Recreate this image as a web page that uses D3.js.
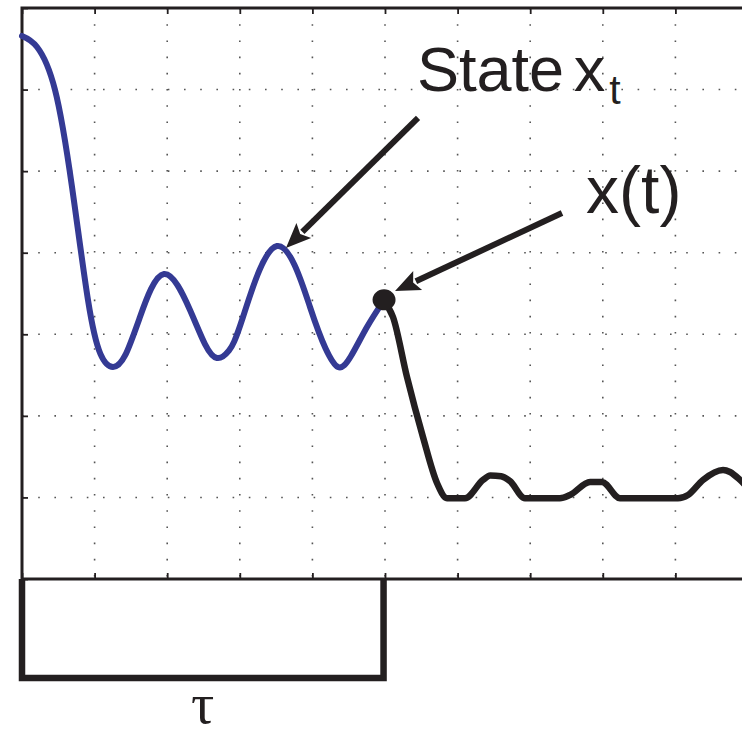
<!DOCTYPE html>
<meta charset="utf-8">
<style>
body { margin: 0; background: #fff; }
svg { display: block; font-family: "Liberation Sans", Arial, sans-serif; }
.grid line { stroke: #555; stroke-width: 1.6; stroke-dasharray: 1.6 14.6; }
.tick line { stroke: #231f20; stroke-width: 1.8; }
</style>
<body>
<script src="https://d3js.org/d3.v7.min.js"></script>
<script>
// grid / tick values (axis units)
var xTicks = [0, 1, 2, 3, 4, 5, 6, 7, 8, 9, 10];
var yTicks = [0, 1, 2, 3, 4, 5, 6, 7];

// history segment (blue), t in [-tau, 0]
var histX = [0, 0.207, 0.455, 0.689, 0.909, 1.08, 1.253, 1.42, 1.625, 1.956,
  2.314, 2.52, 2.686, 2.85, 3.044, 3.512, 3.967, 4.18, 4.353, 4.53, 4.752, 4.98];
var histY = [6.657, 6.522, 5.995, 4.806, 3.42, 2.76, 2.599, 2.74, 3.212, 3.739,
  3.298, 2.88, 2.709, 2.8, 3.212, 4.082, 3.335, 2.83, 2.599, 2.73, 3.089, 3.41];

// future trajectory (black)
var futX = [4.98, 5.11, 5.303, 5.523, 5.716, 5.854, 6.102, 6.35, 6.45, 6.6, 6.722, 6.928, 7.41, 7.548,
  7.824, 7.989, 8.237, 9.036, 9.174, 9.38, 9.656, 9.752, 9.89, 10];
var futY = [3.41, 3.212, 2.476, 1.741, 1.177, 0.99, 0.99, 1.214, 1.27, 1.26, 1.2, 0.99, 0.99, 1.03,
  1.189, 1.189, 0.99, 0.99, 1.03, 1.214, 1.336, 1.312, 1.214, 1.116];

var tau = [0, 4.98];

var width = 742, height = 736;
var x0 = 22, x1 = 748, y0 = 579, y1 = 8;

var x = d3.scaleLinear().domain([0, 10]).range([x0, x1]);
var y = d3.scaleLinear().domain([0, 7]).range([y0, y1]);

var ink = "#231f20", blue = "#343a94";

var svg = d3.select("body").append("svg")
  .attr("width", width)
  .attr("height", height);

// dotted grid
var grid = svg.append("g").attr("class", "grid");
grid.selectAll(".v").data(xTicks.slice(1, -1)).enter().append("line")
  .attr("x1", d => x(d)).attr("x2", d => x(d))
  .attr("y1", y1).attr("y2", y0);
grid.selectAll(".h").data(yTicks.slice(1, -1)).enter().append("line")
  .attr("x1", x0).attr("x2", x1)
  .attr("y1", d => y(d)).attr("y2", d => y(d));

// ticks on all four sides, pointing in
var tk = 6;
svg.append("g").attr("transform", "translate(0," + y0 + ")")
  .call(d3.axisBottom(x).tickValues(xTicks).tickSize(-tk).tickFormat(""))
  .call(g => g.select(".domain").remove());
svg.append("g").attr("transform", "translate(0," + y1 + ")")
  .call(d3.axisTop(x).tickValues(xTicks).tickSize(-tk).tickFormat(""))
  .call(g => g.select(".domain").remove());
svg.append("g").attr("transform", "translate(" + x0 + ",0)")
  .call(d3.axisLeft(y).tickValues(yTicks).tickSize(-tk).tickFormat(""))
  .call(g => g.select(".domain").remove());
svg.append("g").attr("transform", "translate(" + x1 + ",0)")
  .call(d3.axisRight(y).tickValues(yTicks).tickSize(-tk).tickFormat(""))
  .call(g => g.select(".domain").remove());

// frame
svg.append("rect")
  .attr("x", x0).attr("y", y1)
  .attr("width", x1 - x0).attr("height", y0 - y1)
  .attr("fill", "none").attr("stroke", ink).attr("stroke-width", 3);

var futLine = d3.line()
  .x(d => x(d[0])).y(d => y(d[1]))
  .curve(d3.curveMonotoneX);

var histLine = d3.line()
  .x(d => x(d[0])).y(d => y(d[1]))
  .curve(d3.curveNatural);

svg.append("path")
  .datum(d3.zip(futX, futY))
  .attr("d", futLine)
  .attr("fill", "none").attr("stroke", ink)
  .attr("stroke-width", 6.5).attr("stroke-linejoin", "round").attr("stroke-linecap", "round");

svg.append("path")
  .datum(d3.zip(histX, histY))
  .attr("d", histLine)
  .attr("fill", "none").attr("stroke", blue)
  .attr("stroke-width", 6).attr("stroke-linejoin", "round").attr("stroke-linecap", "round");

// current point x(t)
svg.append("ellipse")
  .attr("cx", x(futX[0]) + 0.5).attr("cy", y(futY[0]) - 1)
  .attr("rx", 11.5).attr("ry", 10.5)
  .attr("fill", ink);

// arrows
function arrow(from, to) {
  var ax = x(from[0]), ay = y(from[1]), bx = x(to[0]), by = y(to[1]);
  var dx = bx - ax, dy = by - ay, len = Math.sqrt(dx * dx + dy * dy);
  var ux = dx / len, uy = dy / len;
  var hl = 25, hw = 10.5;
  var cx = bx - ux * hl, cy = by - uy * hl;
  svg.append("line")
    .attr("x1", ax).attr("y1", ay).attr("x2", cx + ux * 2).attr("y2", cy + uy * 2)
    .attr("stroke", ink).attr("stroke-width", 6);
  svg.append("path")
    .attr("d", "M" + bx + "," + by +
      "L" + (cx - uy * hw) + "," + (cy + ux * hw) +
      "L" + (cx + ux * 5) + "," + (cy + uy * 5) +
      "L" + (cx + uy * hw) + "," + (cy - ux * hw) + "Z")
    .attr("fill", ink);
}
arrow([5.455, 5.652], [3.636, 4.058]);
arrow([7.438, 4.487], [5.138, 3.531]);

// labels
var lab = svg.append("text")
  .attr("x", x(5.44)).attr("y", y(5.98))
  .attr("font-size", 63).attr("fill", ink);
lab.append("tspan").attr("fill", ink).text("State");
lab.append("tspan").attr("fill", ink).attr("x", x(7.6)).text("x");
lab.append("tspan").attr("fill", ink).attr("dy", 13).attr("dx", 4).attr("font-size", 41).text("t");

svg.append("text")
  .attr("x", x(7.77)).attr("y", y(4.487))
  .attr("font-size", 66).attr("fill", ink)
  .text("x(t)");

// tau bracket under the axis
var bd = 99;
svg.append("path")
  .attr("d", "M" + x(tau[0]) + "," + y0 + "V" + (y0 + bd) + "H" + x(tau[1]) + "V" + y0)
  .attr("fill", "none").attr("stroke", ink).attr("stroke-width", 6.5);

svg.append("text")
  .attr("x", (x(tau[0]) + x(tau[1])) / 2).attr("y", 723)
  .attr("text-anchor", "middle")
  .attr("font-family", "'Liberation Serif', 'DejaVu Serif', serif")
  .attr("font-size", 58).attr("fill", ink)
  .text("τ");
</script>
</body>
